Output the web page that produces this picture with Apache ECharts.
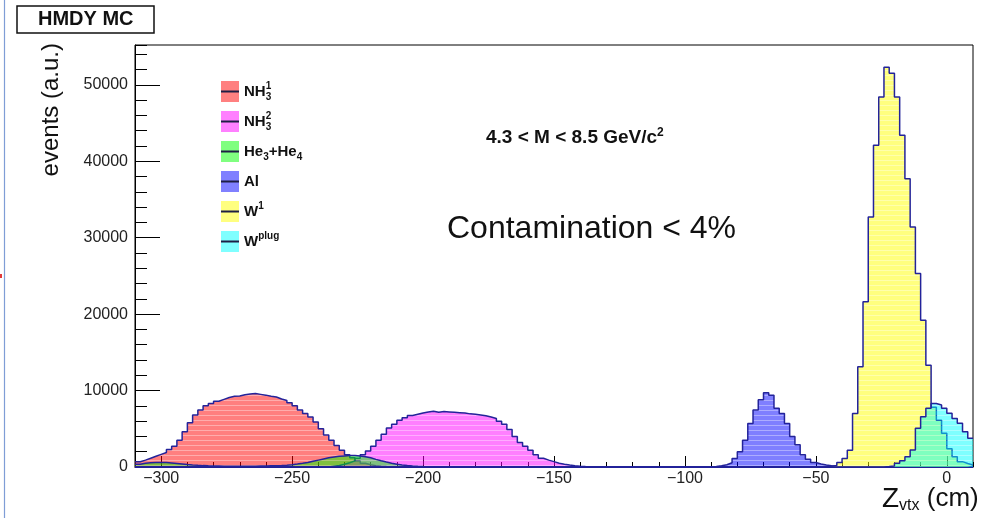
<!DOCTYPE html>
<html>
<head>
<meta charset="utf-8">
<script src="https://cdn.jsdelivr.net/npm/echarts@6/dist/echarts.min.js"></script>
<style>
  html, body { margin: 0; padding: 0; background: #fff; }
  #chart { width: 986px; height: 518px; }
</style>
</head>
<body>
<div id="chart"></div>
<script>
// Z-vertex histograms, 2 cm bins from -310 cm to 10 cm.
const BIN_MIN = -310;
const BIN_MAX = 10;
const BIN_WIDTH = 2;

// Each component: first bin lower edge (cm) and the bin contents from there on.
const nh3aStart = -310;
const nh3aCounts = [690, 900, 1150, 1400, 1650, 1900, 2300, 2700, 3500, 4600, 5800, 6800, 7450, 8000, 8300, 8600,
  8850, 9100, 9250, 9300, 9450, 9550, 9600, 9500, 9400, 9250, 9150, 8900, 8700, 8400, 8000, 7450, 7000, 6550,
  5900, 5000, 4200, 3500, 2800, 2200, 1600, 1200, 800, 500, 300, 180, 100, 50, 20];

const nh3bStart = -236;
const nh3bCounts = [100, 200, 350, 550, 800, 1150, 1600, 2100, 2700, 3500, 4300, 5100, 5600, 6100, 6450, 6750,
  6900, 7050, 7200, 7300, 7150, 7250, 7200, 7150, 7100, 7050, 6950, 6900, 6800, 6700, 6550, 6350, 6000, 5600,
  4900, 4000, 3200, 2700, 2200, 1600, 1150, 900, 700, 500, 370, 250, 170, 110, 70, 40, 20];

const heliumStart = -310;
const heliumCounts = [350, 480, 560, 600, 600, 580, 530, 470, 400, 330, 270, 220, 180, 150, 130, 120, 110, 110,
  100, 100, 100, 100, 110, 120, 130, 150, 170, 200, 240, 300, 380, 480, 600, 750, 900, 1050, 1200, 1300, 1400,
  1450, 1500, 1500, 1450, 1350, 1200, 1000, 820, 650, 500, 370, 270, 190, 130, 90, 60, 40, 30, 20, 10];

const alStart = -92;
const alCounts = [30, 80, 170, 300, 550, 1100, 2000, 3500, 5700, 7450, 8800, 9700, 9400, 7700, 7000, 5700,
  4000, 2900, 1600, 1000, 600, 400, 250, 150, 80, 40];

const w1Start = -50;
const w1Counts = [30, 60, 100, 200, 600, 1100, 2200, 7000, 13100, 21600, 32700, 42100, 48400, 52300, 51500,
  48400, 43400, 37700, 31400, 25300, 19200, 13300, 7800, 6100, 4400, 2400, 1350, 700, 450, 250];

const wPlugStart = -24;
const wPlugCounts = [50, 130, 480, 820, 1350, 2220, 5060, 6580, 7670, 8300, 8100, 7670, 7020, 6360, 5710, 4610, 3750];

// Axis ticks and labels
const xMajorTicks = [-300, -250, -200, -150, -100, -50, 0];
const yMajorTicks = [0, 10000, 20000, 30000, 40000, 50000];
const Y_MAX = 55200;

const FONT = 'Liberation Sans';
const OUTLINE = '#23239a';

// Turn a bin list into step-line points covering the full axis range.
function histPoints(start, counts) {
  const pts = [];
  for (let e = BIN_MIN; e < BIN_MAX; e += BIN_WIDTH) {
    const k = Math.round((e - start) / BIN_WIDTH);
    pts.push([e, (k >= 0 && k < counts.length) ? counts[k] : 0]);
  }
  pts.push([BIN_MAX, pts[pts.length - 1][1]]);
  return pts;
}

// Half-transparent fill with faint horizontal hatching.
function hatchedFill(r, g, b) {
  const c = document.createElement('canvas');
  c.width = 4; c.height = 5;
  const ctx = c.getContext('2d');
  ctx.fillStyle = `rgba(${r},${g},${b},0.5)`;
  ctx.fillRect(0, 0, 4, 5);
  ctx.clearRect(0, 0, 4, 1);
  ctx.fillStyle = `rgba(${r},${g},${b},0.32)`;
  ctx.fillRect(0, 0, 4, 1);
  return { image: c, repeat: 'repeat' };
}

const components = [
  { name: 'NH₃¹', label: '{b|NH}{z|3}{p|1}', start: nh3aStart, counts: nh3aCounts, rgb: [255, 0, 0], light: '#ff8080' },
  { name: 'NH₃²', label: '{b|NH}{z|3}{p|2}', start: nh3bStart, counts: nh3bCounts, rgb: [255, 0, 255], light: '#ff80ff' },
  { name: 'He₃+He₄', label: '{b|He}{s|3}{b|+He}{s|4}', start: heliumStart, counts: heliumCounts, rgb: [0, 255, 0], light: '#80ff80' },
  { name: 'Al', label: '{b|Al}', start: alStart, counts: alCounts, rgb: [0, 0, 255], light: '#8080ff' },
  { name: 'W¹', label: '{b|W}{p|1}', start: w1Start, counts: w1Counts, rgb: [255, 255, 0], light: '#ffff80' },
  { name: 'Wᵖˡᵘᵍ', label: '{b|W}{p|plug}', start: wPlugStart, counts: wPlugCounts, rgb: [0, 255, 255], light: '#80ffff' }
];

const LEG_LEFT = 221, LEG_TOP = 81, LEG_W = 18, LEG_H = 21, LEG_GAP = 9;

const labelRich = {
  b: { fontFamily: FONT, fontSize: 15, fontWeight: 'bold', color: '#111', lineHeight: LEG_H },
  s: { fontFamily: FONT, fontSize: 10, fontWeight: 'bold', color: '#111', lineHeight: LEG_H, verticalAlign: 'bottom' },
  z: { fontFamily: FONT, fontSize: 10, fontWeight: 'bold', color: '#111', lineHeight: LEG_H, verticalAlign: 'bottom', width: 0 },
  p: { fontFamily: FONT, fontSize: 10, fontWeight: 'bold', color: '#111', lineHeight: LEG_H, verticalAlign: 'top' }
};

const chart = echarts.init(document.getElementById('chart'), null, { renderer: 'canvas' });

const legendLines = components.map((c, i) => ({
  type: 'line',
  silent: true,
  z: 100,
  shape: { x1: LEG_LEFT, y1: LEG_TOP + i * (LEG_H + LEG_GAP) + LEG_H / 2, x2: LEG_LEFT + LEG_W, y2: LEG_TOP + i * (LEG_H + LEG_GAP) + LEG_H / 2 },
  style: { stroke: '#1e1e44', lineWidth: 2 }
}));

const minus = v => String(v).replace('-', '\u2212');

// Two grids over the same frame: the first carries the histograms and the
// fine ticks, the second the labelled major ticks.
const frame = { left: 135, right: 13, top: 45, bottom: 51, outerBoundsMode: 'none' };

chart.setOption({
  animation: false,
  backgroundColor: '#fff',
  title: [
    {
      text: 'HMDY MC', left: 17, top: 6, padding: [3, 21, 4, 21],
      borderColor: '#111', borderWidth: 1.5, backgroundColor: '#fff',
      textStyle: { fontFamily: FONT, fontSize: 20, fontWeight: 'bold', color: '#111' }
    },
    {
      text: '{a|4.3 < M < 8.5 GeV/c}{s|2}', left: 486, top: 127, padding: 0,
      textStyle: {
        rich: {
          a: { fontFamily: FONT, fontSize: 19, fontWeight: 'bold', color: '#111', lineHeight: 21 },
          s: { fontFamily: FONT, fontSize: 12, fontWeight: 'bold', color: '#111', lineHeight: 21, verticalAlign: 'top' }
        }
      }
    },
    {
      text: 'Contamination < 4%', left: 447, top: 213, padding: 0,
      textStyle: { fontFamily: FONT, fontSize: 32, fontWeight: 'normal', color: '#111' }
    }
  ],
  legend: {
    orient: 'vertical', left: LEG_LEFT, top: LEG_TOP, padding: 0,
    itemWidth: LEG_W, itemHeight: LEG_H, itemGap: LEG_GAP,
    icon: 'rect', selectedMode: false,
    data: components.map(c => ({ name: c.name, itemStyle: { color: c.light, borderWidth: 0 } })),
    formatter: name => components.find(c => c.name === name).label,
    textStyle: { rich: labelRich }
  },
  grid: [
    Object.assign({ show: true, borderColor: '#000', borderWidth: 1, backgroundColor: 'transparent' }, frame),
    Object.assign({ show: false }, frame)
  ],
  xAxis: [
    {
      gridIndex: 0, type: 'value', min: BIN_MIN, max: BIN_MAX, interval: 10, position: 'bottom',
      axisLine: { show: true, onZero: false, lineStyle: { color: '#000', width: 1 } },
      axisTick: { show: true, inside: true, length: 5, lineStyle: { color: '#000', width: 1 } },
      axisLabel: { show: false },
      splitLine: { show: false }
    },
    {
      gridIndex: 1, type: 'value', min: BIN_MIN, max: BIN_MAX, position: 'bottom',
      axisLine: { show: false, onZero: false },
      axisTick: { show: true, inside: true, length: 11, customValues: xMajorTicks, lineStyle: { color: '#000', width: 1 } },
      axisLabel: {
        show: true, customValues: xMajorTicks, margin: 4, formatter: minus,
        fontFamily: FONT, fontSize: 16, color: '#222'
      },
      splitLine: { show: false }
    }
  ],
  yAxis: [
    {
      gridIndex: 0, type: 'value', min: 0, max: Y_MAX, interval: 2000, position: 'left',
      axisLine: { show: true, onZero: false, lineStyle: { color: '#000', width: 1 } },
      axisTick: { show: true, inside: true, length: 12, lineStyle: { color: '#000', width: 1 } },
      axisLabel: { show: false },
      splitLine: { show: false }
    },
    {
      gridIndex: 1, type: 'value', min: 0, max: Y_MAX, position: 'left',
      axisLine: { show: false, onZero: false },
      axisTick: { show: true, inside: true, length: 25, customValues: yMajorTicks, lineStyle: { color: '#000', width: 1 } },
      axisLabel: {
        show: true, customValues: yMajorTicks, margin: 7, formatter: v => String(v),
        fontFamily: FONT, fontSize: 16, color: '#222'
      },
      splitLine: { show: false },
      name: 'events (a.u.)',
      nameLocation: 'end', nameRotate: 90, nameGap: 2,
      nameTextStyle: {
        fontFamily: FONT, fontSize: 24, color: '#111',
        align: 'right', verticalAlign: 'bottom', padding: [0, 0, 72, 0]
      }
    }
  ],
  series: components.map((c, i) => ({
    type: 'line',
    name: c.name,
    xAxisIndex: 0, yAxisIndex: 0,
    step: 'end',
    symbol: 'none',
    silent: true,
    z: 2 + i,
    data: histPoints(c.start, c.counts),
    itemStyle: { color: c.light },
    lineStyle: { color: OUTLINE, width: 1.5 },
    areaStyle: { color: hatchedFill(c.rgb[0], c.rgb[1], c.rgb[2]), opacity: 1 }
  })),
  graphic: [
    { type: 'line', silent: true, shape: { x1: 4.5, y1: 0, x2: 4.5, y2: 518 }, style: { stroke: '#7f9dd6', lineWidth: 1.2 } },
    { type: 'rect', silent: true, shape: { x: 0, y: 274, width: 2, height: 4 }, style: { fill: '#e23a3a' } },
    // x-axis title
    {
      type: 'text', silent: true, x: 882, y: 484,
      style: {
        text: '{z|Z}{v|vtx}{c| (cm)}',
        rich: {
          z: { fontFamily: FONT, fontSize: 28, fill: '#111', lineHeight: 30 },
          v: { fontFamily: FONT, fontSize: 16, fill: '#111', lineHeight: 30, verticalAlign: 'bottom' },
          c: { fontFamily: FONT, fontSize: 26, fill: '#111', lineHeight: 30 }
        }
      }
    },
    ...legendLines
  ]
});
</script>
</body>
</html>
